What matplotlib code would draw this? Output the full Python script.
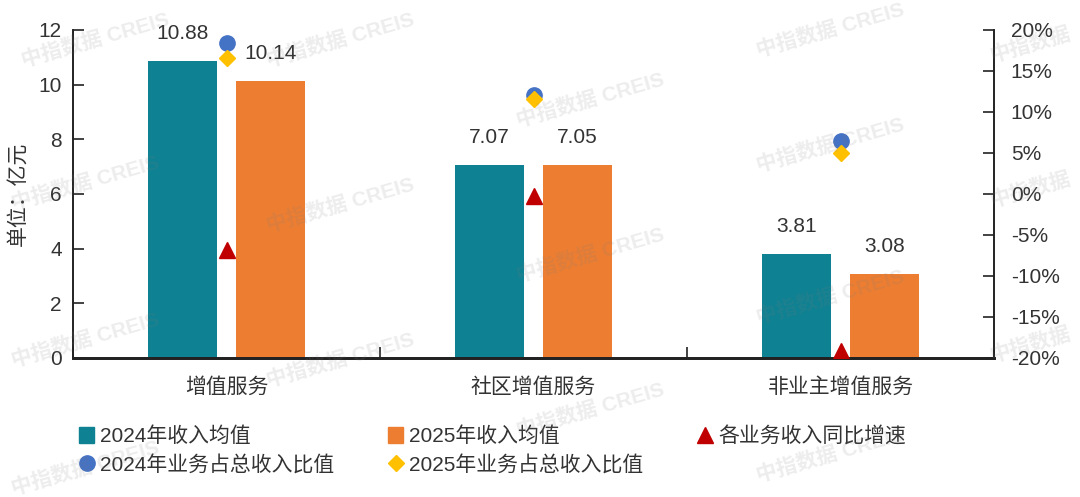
import numpy as np
import matplotlib
matplotlib.use("Agg")
import matplotlib.pyplot as plt
from matplotlib.lines import Line2D
from matplotlib.patches import Patch
from matplotlib.ticker import FuncFormatter, FixedLocator

plt.rcParams['font.family'] = ['Liberation Sans', 'Noto Sans CJK SC', 'DejaVu Sans']

categories = ['增值服务', '社区增值服务', '非业主增值服务']
income_2024 = [10.88, 7.07, 3.81]
income_2025 = [10.14, 7.05, 3.08]
yoy_growth = [-6.8, -0.3, -19.2]
share_2024 = [18.4, 12.1, 6.5]
share_2025 = [16.6, 11.6, 5.0]

teal = '#0E8192'
orange = '#ED7D31'
red = '#C00000'
blue = '#4472C4'
gold = '#FFC000'
txt = '#333333'

fig = plt.figure(figsize=(10.8, 4.97), dpi=100)
ax = fig.add_axes([0.0676, 0.2797, 0.8528, 0.66])
ax2 = ax.twinx()

x = np.arange(len(categories))
w = 0.225
off = 0.143
b1 = ax.bar(x - off, income_2024, w, color=teal, zorder=2)
b2 = ax.bar(x + off, income_2025, w, color=orange, zorder=2)
for bars, vals in ((b1, income_2024), (b2, income_2025)):
    for r, v in zip(bars, vals):
        ax.annotate(f'{v:.2f}', (r.get_x() + r.get_width() / 2, v),
                    xytext=(0, 13), textcoords='offset points',
                    ha='center', va='bottom', fontsize=15, color=txt)

ax2.plot(x, yoy_growth, '^', color=red, ms=12, zorder=3)
ax2.plot(x, share_2024, 'o', color=blue, ms=11, zorder=3)
ax2.plot(x, share_2025, 'D', color=gold, ms=8, zorder=4)

ax.set_xlim(-0.5, 2.5)
ax.set_ylim(0, 12)
ax.set_yticks(range(0, 13, 2))
ax2.set_ylim(-20, 20)
ax2.set_yticks(range(-20, 21, 5))
ax2.yaxis.set_major_formatter(FuncFormatter(lambda v, p: f'{v:.0f}%'))

ax.set_xticks(x)
ax.set_xticklabels(categories, fontsize=15, color=txt)
ax.xaxis.set_minor_locator(FixedLocator([-0.5, 0.5, 1.5, 2.5]))
ax.tick_params(axis='x', which='major', length=0, pad=14)
ax.tick_params(axis='x', which='minor', direction='in', length=8, width=1.2, color='#222222')
ax.tick_params(axis='y', direction='in', length=8, width=1.2, color='#222222',
               labelsize=15, labelcolor=txt, pad=8)
ax2.tick_params(axis='y', direction='in', length=8, width=1.2, color='#222222',
                labelsize=15, labelcolor=txt, pad=12)
ax.set_ylabel('单位：亿元', fontsize=15, color=txt, labelpad=8)

for a in (ax, ax2):
    a.spines['top'].set_visible(False)
    a.spines['left'].set_color('#222222')
    a.spines['right'].set_color('#222222')
    a.spines['left'].set_linewidth(1.2)
    a.spines['right'].set_linewidth(1.2)
    a.spines['bottom'].set_linewidth(2)
    a.spines['bottom'].set_color('#222222')

handles = [
    Patch(color=teal, label='2024年收入均值'),
    Line2D([], [], ls='', marker='o', color=blue, ms=11, label='2024年业务占总收入比值'),
    Patch(color=orange, label='2025年收入均值'),
    Line2D([], [], ls='', marker='D', color=gold, ms=8, label='2025年业务占总收入比值'),
    Line2D([], [], ls='', marker='^', color=red, ms=12, label='各业务收入同比增速'),
]
leg = fig.legend(handles=handles, ncol=3, loc='upper left', bbox_to_anchor=(0.056, 0.18),
                 frameon=False, fontsize=15, handlelength=0.7, handleheight=0.8,
                 handletextpad=0.3, columnspacing=2.6, labelspacing=0.4)
for t in leg.get_texts():
    t.set_color(txt)

# watermark (kept inside the figure)
wm = [(95, 40, '中指数据 CREIS'), (340, 40, '中指数据 CREIS'), (830, 30, '中指数据 CREIS'),
      (1030, 45, '中指数据'),
      (590, 100, '中指数据 CREIS'), (85, 183, '中指数据 CREIS'), (340, 205, '中指数据 CREIS'),
      (830, 145, '中指数据 CREIS'), (1030, 190, '中指数据'),
      (590, 255, '中指数据 CREIS'), (85, 340, '中指数据 CREIS'), (340, 360, '中指数据 CREIS'),
      (830, 297, '中指数据 CREIS'), (1030, 345, '中指数据'),
      (590, 410, '中指数据 CREIS'), (85, 468, '中指数据 CREIS'), (830, 455, '中指数据 CREIS')]
for px, py, s in wm:
    fig.text(px / 1080, 1 - py / 497, s, fontsize=15, fontweight='bold',
             color='#7f7f7f', alpha=0.14, rotation=16, ha='center', va='center', zorder=10)

fig.savefig('out.png', dpi=100)
